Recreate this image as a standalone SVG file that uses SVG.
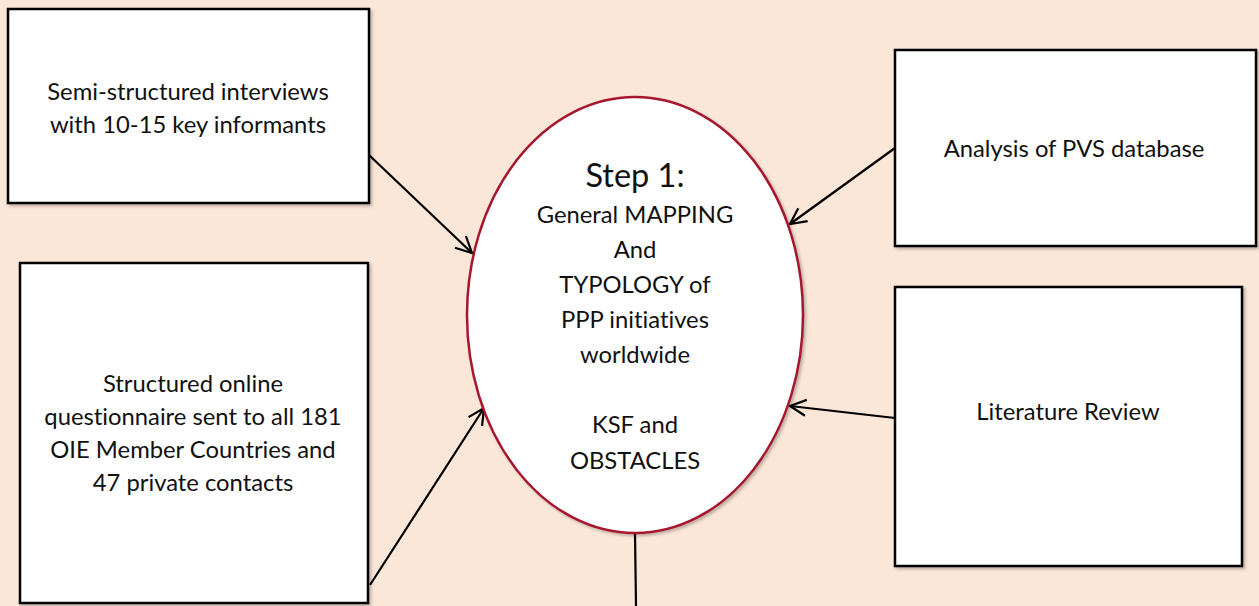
<svg xmlns="http://www.w3.org/2000/svg" width="1259" height="606" viewBox="0 0 1259 606">
<defs>
<marker id="arr" viewBox="0 0 20 20" refX="18" refY="10" markerWidth="20" markerHeight="20" markerUnits="userSpaceOnUse" orient="auto">
<path d="M2,2 L18,10 L2,18" fill="none" stroke="#000" stroke-width="2.2"/>
</marker>
<filter id="sh" x="-5%" y="-5%" width="115%" height="115%">
<feDropShadow dx="2" dy="2" stdDeviation="1.5" flood-color="#000" flood-opacity="0.25"/>
</filter>
</defs>
<style>
.box{fill:#fff;stroke:#000;stroke-width:2.5;}
.t{font-family:Lato,"Open Sans",sans-serif;font-size:23.8px;fill:#111;text-anchor:middle;font-variant-ligatures:none;}
.big{font-size:32.5px;}
.c{stroke:#000;stroke-width:2.2;fill:none;}
</style>
<rect width="1259" height="606" fill="#FBE7D8"/>
<g id="connectors">
<line class="c" x1="369" y1="155" x2="472" y2="253" marker-end="url(#arr)"/>
<line class="c" x1="370" y1="585" x2="484" y2="408" marker-end="url(#arr)"/>
<line class="c" x1="895" y1="148" x2="790" y2="224" marker-end="url(#arr)"/>
<line class="c" x1="895" y1="418" x2="790" y2="406" marker-end="url(#arr)"/>
<line class="c" x1="635" y1="533" x2="636" y2="606"/>
</g>
<g id="n1">
<rect class="box" x="8" y="9" width="361" height="194" filter="url(#sh)"/>
<text class="t" x="188" y="100">Semi-structured interviews</text>
<text class="t" x="188" y="133">with 10-15 key informants</text>
</g>
<g id="n2">
<rect class="box" x="20" y="263" width="348" height="340" filter="url(#sh)"/>
<text class="t" x="193" y="392">Structured online</text>
<text class="t" x="193" y="425">questionnaire sent to all 181</text>
<text class="t" x="193" y="458">OIE Member Countries and</text>
<text class="t" x="193" y="491">47 private contacts</text>
</g>
<g id="n3">
<rect class="box" x="895" y="50" width="361" height="196" filter="url(#sh)"/>
<text class="t" x="1074" y="157">Analysis of PVS database</text>
</g>
<g id="n4">
<rect class="box" x="895" y="287" width="347" height="279" filter="url(#sh)"/>
<text class="t" x="1068" y="420">Literature Review</text>
</g>
<g id="center">
<ellipse cx="635" cy="315" rx="168" ry="218" fill="#fff" stroke="#A6192E" stroke-width="2.5" filter="url(#sh)"/>
<text class="t big" x="635" y="187">Step 1:</text>
<text class="t" x="635" y="223">General MAPPING</text>
<text class="t" x="635" y="258">And</text>
<text class="t" x="635" y="293">TYPOLOGY of</text>
<text class="t" x="635" y="328">PPP initiatives</text>
<text class="t" x="635" y="363">worldwide</text>
<text class="t" x="635" y="433">KSF and</text>
<text class="t" x="635" y="469">OBSTACLES</text>
</g>
</svg>
